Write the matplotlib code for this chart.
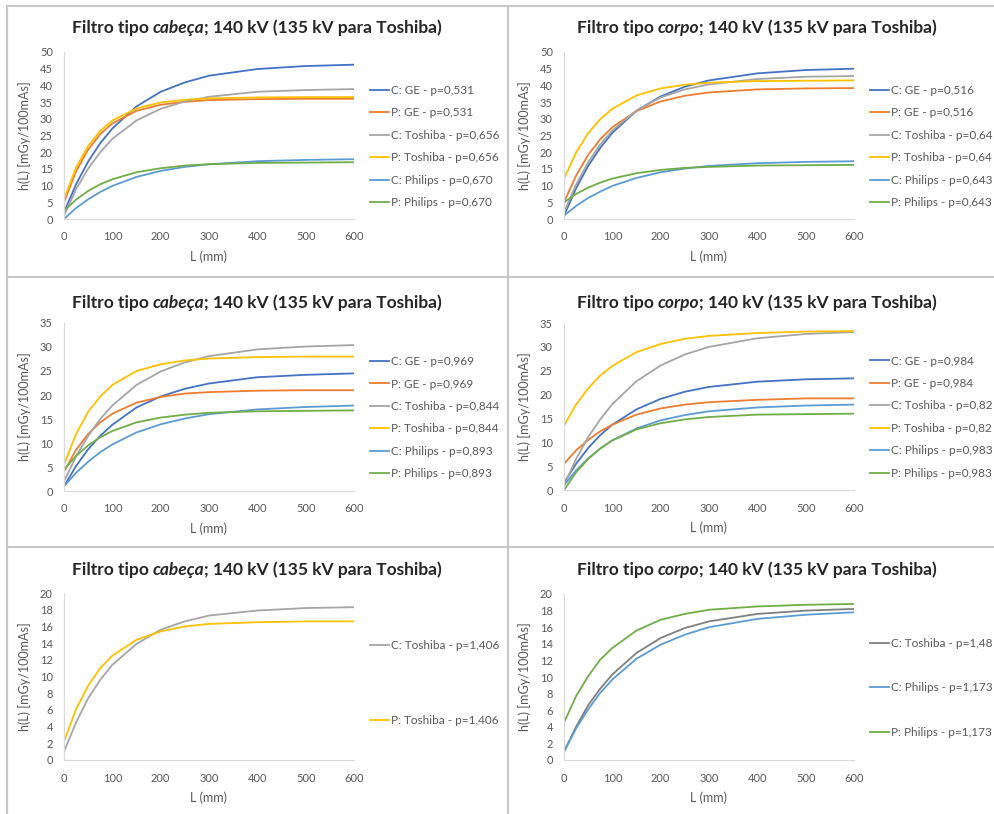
import matplotlib.pyplot as plt
from matplotlib.lines import Line2D
from matplotlib.offsetbox import TextArea, HPacker, AnnotationBbox

plt.rcParams['font.family'] = ['Lato', 'DejaVu Sans']

W, H = 995, 814

# comprimento L (mm) onde as curvas foram lidas
L_mm = [0, 25, 50, 75, 100, 150, 200, 250, 300, 400, 500, 600]

# painel 1: cabeça, p ~ 0,5-0,7
p1_c_ge = [2.0, 10.4, 17.2, 22.7, 27.1, 33.7, 38.1, 40.9, 42.9, 44.9, 45.8, 46.2]
p1_p_ge = [5.0, 14.3, 20.8, 25.4, 28.6, 32.4, 34.2, 35.1, 35.6, 35.9, 36.0, 36.0]
p1_c_tosh = [1.0, 8.9, 15.1, 20.0, 24.0, 29.5, 33.0, 35.2, 36.6, 38.1, 38.6, 38.9]
p1_p_tosh = [6.0, 15.4, 21.9, 26.4, 29.5, 33.1, 34.9, 35.7, 36.1, 36.4, 36.5, 36.5]
p1_c_phil = [0.0, 3.3, 5.9, 8.1, 9.9, 12.6, 14.4, 15.6, 16.4, 17.3, 17.7, 17.9]
p1_p_phil = [2.5, 5.8, 8.4, 10.4, 11.9, 14.0, 15.2, 16.0, 16.4, 16.8, 16.9, 17.0]
p1_labels = ["C: GE - p=0,531", "P: GE - p=0,531", "C: Toshiba - p=0,656",
             "P: Toshiba - p=0,656", "C: Philips - p=0,670", "P: Philips - p=0,670"]

# painel 2: corpo, p ~ 0,5-0,6
p2_c_ge = [1.0, 9.2, 15.9, 21.3, 25.8, 32.4, 36.7, 39.6, 41.5, 43.6, 44.6, 45.0]
p2_p_ge = [5.0, 13.0, 19.2, 23.9, 27.5, 32.3, 35.2, 36.9, 37.9, 38.8, 39.1, 39.2]
p2_c_tosh = [2.0, 10.3, 17.0, 22.3, 26.5, 32.5, 36.4, 38.8, 40.3, 41.9, 42.6, 42.8]
p2_p_tosh = [12.0, 19.9, 25.7, 29.9, 33.0, 37.0, 39.1, 40.2, 40.8, 41.3, 41.4, 41.5]
p2_c_phil = [1.0, 3.9, 6.3, 8.2, 9.9, 12.3, 14.0, 15.1, 15.9, 16.7, 17.1, 17.3]
p2_p_phil = [5.0, 7.5, 9.4, 10.9, 12.1, 13.7, 14.7, 15.3, 15.6, 16.0, 16.1, 16.2]
p2_labels = ["C: GE - p=0,516", "P: GE - p=0,516", "C: Toshiba - p=0,64",
             "P: Toshiba - p=0,64", "C: Philips - p=0,643", "P: Philips - p=0,643"]

# painel 3: cabeça, p ~ 0,8-1,0
p3_c_ge = [1.0, 5.2, 8.7, 11.5, 13.8, 17.4, 19.7, 21.3, 22.4, 23.7, 24.2, 24.5]
p3_p_ge = [4.0, 8.6, 11.9, 14.3, 16.1, 18.4, 19.6, 20.3, 20.6, 20.9, 21.0, 21.0]
p3_c_tosh = [2.0, 7.2, 11.5, 15.0, 17.8, 22.1, 24.9, 26.8, 28.1, 29.5, 30.1, 30.4]
p3_p_tosh = [5.5, 11.9, 16.5, 19.7, 22.1, 25.0, 26.4, 27.2, 27.6, 27.9, 28.0, 28.0]
p3_c_phil = [1.0, 3.8, 6.1, 8.1, 9.7, 12.2, 13.9, 15.1, 16.0, 17.0, 17.5, 17.8]
p3_p_phil = [4.5, 7.3, 9.5, 11.2, 12.5, 14.3, 15.3, 15.9, 16.3, 16.6, 16.7, 16.8]
p3_labels = ["C: GE - p=0,969", "P: GE - p=0,969", "C: Toshiba - p=0,844",
             "P: Toshiba - p=0,844", "C: Philips - p=0,893", "P: Philips - p=0,893"]

# painel 4: corpo, p ~ 0,8-1,0
p4_c_ge = [1.5, 5.5, 8.8, 11.5, 13.7, 16.9, 19.1, 20.6, 21.6, 22.7, 23.2, 23.4]
p4_p_ge = [5.5, 8.3, 10.5, 12.3, 13.7, 15.8, 17.1, 17.9, 18.4, 18.9, 19.2, 19.2]
p4_c_tosh = [1.0, 6.5, 11.1, 14.8, 18.0, 22.8, 26.1, 28.4, 30.0, 31.8, 32.7, 33.1]
p4_p_tosh = [13.5, 17.9, 21.3, 24.0, 26.0, 28.9, 30.6, 31.7, 32.3, 32.9, 33.2, 33.3]
p4_c_phil = [1.0, 4.1, 6.6, 8.7, 10.4, 12.9, 14.6, 15.7, 16.5, 17.3, 17.7, 17.9]
p4_p_phil = [0.0, 3.7, 6.5, 8.7, 10.4, 12.7, 14.0, 14.8, 15.3, 15.8, 15.9, 16.0]
p4_labels = ["C: GE - p=0,984", "P: GE - p=0,984", "C: Toshiba - p=0,82",
             "P: Toshiba - p=0,82", "C: Philips - p=0,983", "P: Philips - p=0,983"]

# painel 5: cabeça, p ~ 1,4
p5_c_tosh = [1.0, 4.5, 7.4, 9.6, 11.4, 13.9, 15.6, 16.6, 17.3, 17.9, 18.2, 18.3]
p5_p_tosh = [2.2, 6.1, 8.9, 11.0, 12.5, 14.4, 15.4, 16.0, 16.3, 16.5, 16.6, 16.6]
p5_labels = ["C: Toshiba - p=1,406", "P: Toshiba - p=1,406"]

# painel 6: corpo, p ~ 1,2-1,5
p6_c_tosh = [1.0, 4.0, 6.6, 8.6, 10.3, 12.9, 14.7, 15.9, 16.7, 17.6, 18.0, 18.2]
p6_c_phil = [1.0, 3.8, 6.1, 8.1, 9.7, 12.2, 13.9, 15.1, 16.0, 17.0, 17.5, 17.8]
p6_p_phil = [4.5, 7.7, 10.1, 12.1, 13.5, 15.6, 16.9, 17.6, 18.1, 18.5, 18.7, 18.8]
p6_labels = ["C: Toshiba - p=1,48", "C: Philips - p=1,173", "P: Philips - p=1,173"]

# cores padrão do Excel
c_ge, p_ge = '#4472C4', '#ED7D31'
c_tosh, p_tosh = '#A5A5A5', '#FFC000'
c_phil, p_phil = '#5B9BD5', '#70AD47'
six_colors = [c_ge, p_ge, c_tosh, p_tosh, c_phil, p_phil]

fig = plt.figure(figsize=(W / 100, H / 100), dpi=100)


def axes_px(x0, x1, ytop, ybot):
    return fig.add_axes([x0 / W, 1 - ybot / H, (x1 - x0) / W, (ybot - ytop) / H])


def title(xc, yc, word):
    kw = dict(fontsize=12.5, fontweight='bold', color='#262626')
    t1 = TextArea("Filtro tipo", textprops=kw)
    t2 = TextArea(word, textprops=dict(kw, style='italic'))
    t3 = TextArea("; 140 kV (135 kV para Toshiba)", textprops=kw)
    box = HPacker(children=[HPacker(children=[t1, t2], sep=3, pad=0), t3], sep=0, pad=0, align='baseline')
    ab = AnnotationBbox(box, (xc / W, 1 - yc / H), xycoords='figure fraction', frameon=False,
                        box_alignment=(0.5, 0.5), pad=0)
    fig.add_artist(ab)


def panel(ax, series, labels, colors, ymax, ystep, leg_y, spacing):
    for vals, lab, col in zip(series, labels, colors):
        ax.plot(L_mm, vals, color=col, lw=1.3, label=lab)
    ax.set_xlim(0, 600)
    ax.set_ylim(0, ymax)
    ax.set_xticks(range(0, 601, 100))
    ax.set_yticks(range(0, ymax + 1, ystep))
    for s in ['top', 'right']:
        ax.spines[s].set_visible(False)
    for s in ['left', 'bottom']:
        ax.spines[s].set_color('#D9D9D9')
        ax.spines[s].set_linewidth(0.8)
    ax.tick_params(length=0, labelsize=8, labelcolor='#595959')
    ax.tick_params(axis='x', pad=9)
    ax.tick_params(axis='y', pad=8)
    ax.set_xlabel("L (mm)", fontsize=9, color='#595959')
    ax.set_ylabel("h(L) [mGy/100mAs]", fontsize=9, color='#595959')
    ax.xaxis.set_label_coords(0.5, -0.19)
    ax.yaxis.set_label_coords(-0.114, 0.5)
    ax.legend(loc='center left', bbox_to_anchor=(1.055, leg_y), frameon=False, fontsize=8.5,
              handlelength=1.6, handletextpad=0.15, labelspacing=spacing, borderpad=0,
              borderaxespad=0, labelcolor='#595959')


ax1 = axes_px(64, 354, 52, 219)
panel(ax1, [p1_c_ge, p1_p_ge, p1_c_tosh, p1_p_tosh, p1_c_phil, p1_p_phil], p1_labels,
      six_colors, 50, 5, 0.434, 0.97)
ax2 = axes_px(564, 854, 52, 219)
panel(ax2, [p2_c_ge, p2_p_ge, p2_c_tosh, p2_p_tosh, p2_c_phil, p2_p_phil], p2_labels,
      six_colors, 50, 5, 0.434, 0.97)
ax3 = axes_px(64, 354, 323, 491)
panel(ax3, [p3_c_ge, p3_p_ge, p3_c_tosh, p3_p_tosh, p3_c_phil, p3_p_phil], p3_labels,
      six_colors, 35, 5, 0.436, 0.97)
ax4 = axes_px(564, 854, 323, 490)
panel(ax4, [p4_c_ge, p4_p_ge, p4_c_tosh, p4_p_tosh, p4_c_phil, p4_p_phil], p4_labels,
      six_colors, 35, 5, 0.436, 0.97)
ax5 = axes_px(64, 354, 593, 760)
panel(ax5, [p5_c_tosh, p5_p_tosh], p5_labels, [c_tosh, p_tosh], 20, 2, 0.462, 5.4)
ax6 = axes_px(564, 854, 594, 760)
panel(ax6, [p6_c_tosh, p6_c_phil, p6_p_phil], p6_labels, ['#7F7F7F', c_phil, p_phil],
      20, 2, 0.434, 2.85)

title(257, 28, "cabeça")
title(757, 28, "corpo")
title(257, 303, "cabeça")
title(757, 303, "corpo")
title(257, 570, "cabeça")
title(757, 570, "corpo")

# bordas da tabela
grid = '#C8C8C8'
for (x0, y0, x1, y1) in [(7, 6, 7, H), (508, 6, 508, H), (7, 6, W, 6), (7, 277, W, 277), (7, 547, W, 547)]:
    fig.add_artist(Line2D([x0 / W, x1 / W], [1 - y0 / H, 1 - y1 / H], transform=fig.transFigure,
                          color=grid, lw=1.5))

fig.savefig("out.png", dpi=100)
